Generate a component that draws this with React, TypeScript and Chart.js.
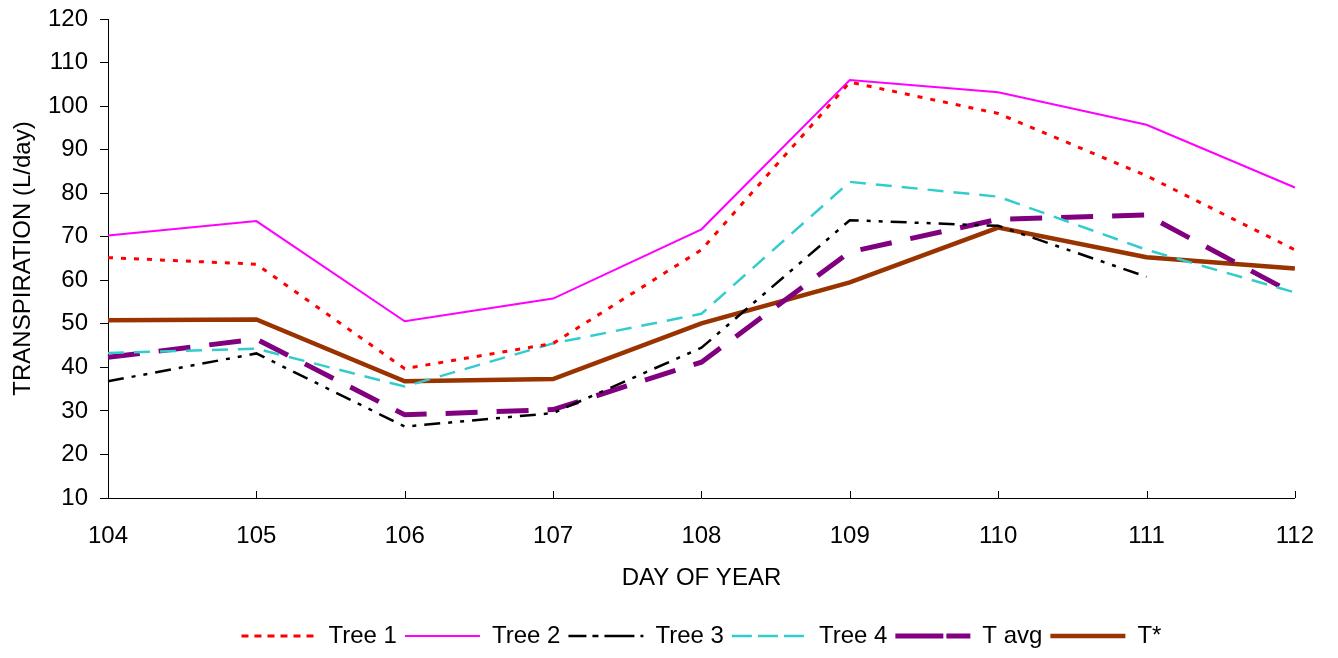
import React, { useEffect, useRef } from "react";
import { Chart, registerables } from "chart.js";

Chart.register(...registerables);

const days = ["104", "105", "106", "107", "108", "109", "110", "111", "112"];
const tree1 = [65.2, 63.7, 39.7, 45.5, 67.0, 105.5, 98.3, 84.0, 67.0];
const tree2 = [70.3, 73.6, 50.6, 55.8, 71.7, 106.0, 103.2, 95.7, 81.3];
const tree3 = [36.8, 43.2, 26.4, 29.5, 44.5, 73.8, 72.5, 60.8, null];
const tree4 = [43.3, 44.3, 35.6, 45.5, 52.3, 82.6, 79.2, 67.0, 57.2];
const tAvg = [42.3, 46.5, 29.1, 30.3, 41.2, 66.5, 74.0, 75.0, 56.8];
const tStar = [50.8, 51.0, 36.8, 37.3, 50.1, 59.5, 72.1, 65.3, 62.7];

const FONT = "'Liberation Sans', Arial, sans-serif";

const innerTicks = {
  id: "innerTicks",
  afterDatasetsDraw(chart: any) {
    const xs = chart.scales.x;
    const ctx = chart.ctx;
    ctx.save();
    ctx.strokeStyle = "#000";
    ctx.lineWidth = 1;
    ctx.beginPath();
    for (let i = 0; i < xs.ticks.length; i++) {
      const px = Math.round(xs.getPixelForTick(i)) + 0.5;
      ctx.moveTo(px, xs.top - 7);
      ctx.lineTo(px, xs.top);
    }
    ctx.stroke();
    ctx.restore();
  },
};

const legendShift = {
  id: "legendShift",
  afterLayout(chart: any) {
    const lg = chart.legend;
    if (lg) {
      lg.left = chart.chartArea.left;
      lg.right = chart.chartArea.right;
    }
  },
};

export default function App() {
  const ref = useRef<HTMLCanvasElement | null>(null);
  useEffect(() => {
    if (!ref.current) return;
    const mk = (label: string, data: any[], color: string, width: number, dash: number[]) => ({
      label,
      data,
      borderColor: color,
      backgroundColor: color,
      borderWidth: width,
      borderDash: dash,
      borderCapStyle: "butt" as const,
      pointRadius: 0,
      tension: 0,
      fill: false,
      spanGaps: false,
    });
    const chart = new Chart(ref.current, {
      type: "line",
      data: {
        labels: days,
        datasets: [
          mk("Tree 1", tree1, "#FF0000", 3, [5, 8]),
          mk("Tree 2", tree2, "#FF00FF", 2, []),
          mk("Tree 3", tree3, "#000000", 2.5, [16, 8, 4, 8, 4, 8]),
          mk("Tree 4", tree4, "#33CCCC", 2.5, [16, 10]),
          mk("T avg", tAvg, "#800080", 5, [32, 19]),
          mk("T*", tStar, "#993300", 4.5, []),
        ],
      },
      options: {
        responsive: false,
        animation: false,
        layout: { padding: { top: 19, right: 42, left: 0, bottom: 0 } },
        plugins: {
          tooltip: { enabled: false },
          legend: {
            position: "bottom",
            align: "center",
            labels: {
              boxWidth: 75,
              boxHeight: 0,
              padding: 8,
              color: "#000",
              font: { family: FONT, size: 24 },
            },
          },
        },
        scales: {
          x: {
            type: "category",
            offset: false,
            grid: { display: false, drawTicks: false, tickLength: 0 },
            border: { display: true, color: "#000", width: 1 },
            ticks: {
              color: "#000",
              font: { family: FONT, size: 24 },
              padding: 24,
              maxRotation: 0,
              autoSkip: false,
            },
            title: {
              display: true,
              text: "DAY OF YEAR",
              color: "#000",
              font: { family: FONT, size: 24 },
              padding: { top: 0, bottom: 23 },
            },
            afterFit(scale: any) {
              scale.height = 118;
            },
          },
          y: {
            min: 10,
            max: 120,
            grid: {
              display: true,
              drawOnChartArea: false,
              drawTicks: true,
              tickLength: 8,
              color: "#000",
            },
            border: { display: true, color: "#000", width: 1 },
            ticks: {
              stepSize: 10,
              color: "#000",
              font: { family: FONT, size: 24 },
              padding: 12,
            },
            title: {
              display: true,
              text: "TRANSPIRATION (L/day)",
              color: "#000",
              font: { family: FONT, size: 24 },
              padding: { top: 9, bottom: 0 },
            },
            afterFit(scale: any) {
              scale.width = 108;
              scale.paddingTop = 0;
              scale.paddingBottom = 0;
            },
          },
        },
      },
      plugins: [innerTicks, legendShift],
    });
    return () => chart.destroy();
  }, []);
  return (
    <div style={{ position: "absolute", left: 0, top: 0, width: 1338, height: 658, background: "#fff" }}>
      <canvas ref={ref} width={1338} height={658} style={{ display: "block" }} />
    </div>
  );
}
